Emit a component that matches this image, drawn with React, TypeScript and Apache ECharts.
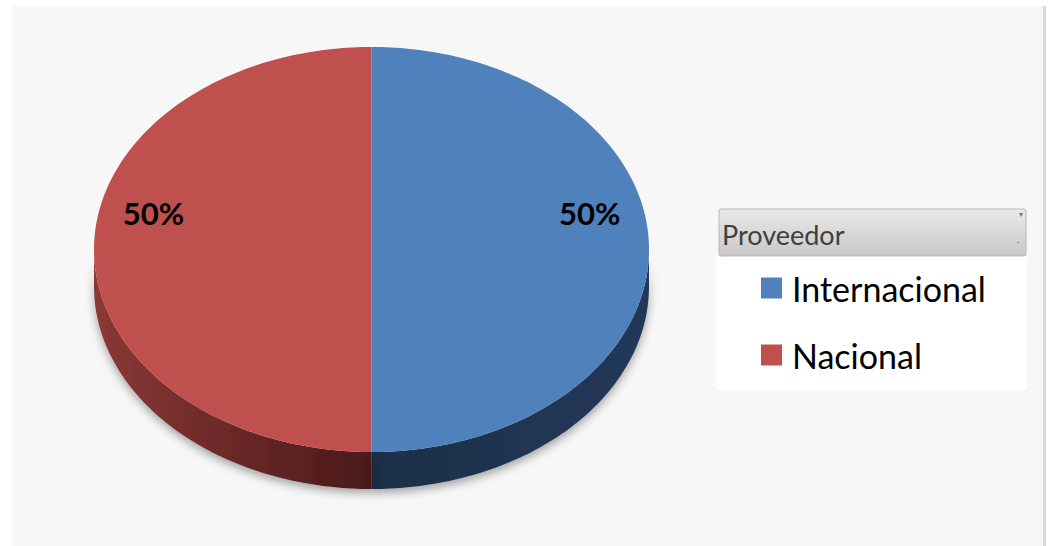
import React, { useEffect, useRef } from "react";
import * as echarts from "echarts";

const categories = ["Internacional", "Nacional"];
const values = [50, 50];
const topColors = ["#4f81bd", "#c0504d"];
const sideColors = [
  ["#1d2f47", "#22385a"],
  ["#8a3836", "#4a1919"],
];
const legendTitle = "Proveedor";

const CX = 371.5;
const CY = 249.5;
const RX = 277.5;
const RY = 202.5;
const DEPTH = 37;

const total = values.reduce((a, b) => a + b, 0);

function pt(deg: number, dy = 0): number[] {
  const r = (deg * Math.PI) / 180;
  return [CX + RX * Math.sin(r), CY - RY * Math.cos(r) + dy];
}

function arcPoints(a: number, b: number, dy = 0): number[][] {
  const pts: number[][] = [];
  const n = Math.max(2, Math.ceil(Math.abs(b - a)));
  for (let k = 0; k <= n; k++) pts.push(pt(a + ((b - a) * k) / n, dy));
  return pts;
}

function renderItem(params: any, api: any) {
  const i = params.seriesIndex;
  const v = api.value(0);
  const before = values.slice(0, i).reduce((a, b) => a + b, 0);
  const start = (before / total) * 360;
  const end = start + (v / total) * 360;
  const children: any[] = [];

  const s = Math.max(start, 90);
  const e = Math.min(end, 270);
  if (s < e) {
    const pts = arcPoints(s, e).concat(arcPoints(e, s, DEPTH));
    children.push({
      type: "polygon",
      z2: 1,
      shape: { points: pts },
      style: {
        fill: new echarts.graphic.LinearGradient(0, 0, 1, 0, [
          { offset: 0, color: sideColors[i][0] },
          { offset: 1, color: sideColors[i][1] },
        ]),
        shadowBlur: 10,
        shadowOffsetY: 4,
        shadowColor: "rgba(0,0,0,0.35)",
      },
    });
  }

  const topPts = [[CX, CY]].concat(arcPoints(start, end));
  children.push({
    type: "polygon",
    z2: 5,
    shape: { points: topPts },
    style: { fill: topColors[i] },
  });

  const mid = ((start + end) / 2) * (Math.PI / 180);
  const lx = CX + 0.786 * RX * Math.sin(mid);
  const ly = CY - 0.786 * RY * Math.cos(mid) - DEPTH;
  children.push({
    type: "text",
    z2: 10,
    x: lx,
    y: ly,
    style: {
      text: Math.round((v / total) * 100) + "%",
      fill: "#000",
      fontSize: 31,
      fontWeight: "bold",
      fontFamily: "Lato",
      align: "center",
      verticalAlign: "middle",
    },
  });

  return { type: "group", children };
}

export default function App() {
  const ref = useRef<HTMLDivElement>(null);
  useEffect(() => {
    if (!ref.current) return;
    const chart = echarts.init(ref.current, undefined, { renderer: "svg" });
    chart.setOption({
      animation: false,
      backgroundColor: "#ffffff",
      graphic: [
        {
          type: "rect",
          shape: { x: 12, y: 6, width: 1031, height: 540 },
          style: { fill: "#f7f7f7" },
          silent: true,
        },
        {
          type: "rect",
          shape: { x: 1043, y: 6, width: 3, height: 540 },
          style: { fill: "#dadada" },
          silent: true,
        },
        {
          type: "rect",
          shape: { x: 716, y: 256, width: 311, height: 134 },
          style: { fill: "#ffffff" },
          silent: true,
        },
        {
          type: "rect",
          shape: { x: 719, y: 209, width: 307, height: 47, r: 2 },
          style: {
            fill: new echarts.graphic.LinearGradient(0, 0, 0, 1, [
              { offset: 0, color: "#e9e9e9" },
              { offset: 1, color: "#c8c8c8" },
            ]),
            stroke: "#b8b8b8",
            lineWidth: 1,
          },
          silent: true,
        },
        {
          type: "text",
          x: 722,
          y: 234,
          style: {
            text: legendTitle,
            fill: "#3f3f3f",
            fontSize: 27,
            fontFamily: "Lato",
            verticalAlign: "middle",
          },
          silent: true,
        },
        {
          type: "text",
          x: 1021,
          y: 214,
          style: { text: "▾", fill: "#777", fontSize: 8, align: "center", verticalAlign: "middle" },
          silent: true,
        },
        {
          type: "text",
          x: 1018,
          y: 241,
          style: { text: "-", fill: "#555", fontSize: 8, align: "center", verticalAlign: "middle" },
          silent: true,
        },
      ],
      legend: {
        orient: "vertical",
        left: 756,
        top: 266,
        icon: "rect",
        itemWidth: 21,
        itemHeight: 21,
        itemGap: 33,
        selectedMode: false,
        data: categories,
        textStyle: {
          fontFamily: "Lato",
          fontSize: 34,
          lineHeight: 34,
          color: "#000",
          padding: [0, 0, 0, 5],
        },
      },
      series: categories.map((name, i) => ({
        type: "custom",
        name,
        coordinateSystem: "none",
        silent: true,
        itemStyle: { color: topColors[i] },
        data: [values[i]],
        renderItem,
      })),
    });
    return () => chart.dispose();
  }, []);
  return (
    <div
      ref={ref}
      style={{ position: "fixed", left: 0, top: 0, width: 1051, height: 546 }}
    />
  );
}
